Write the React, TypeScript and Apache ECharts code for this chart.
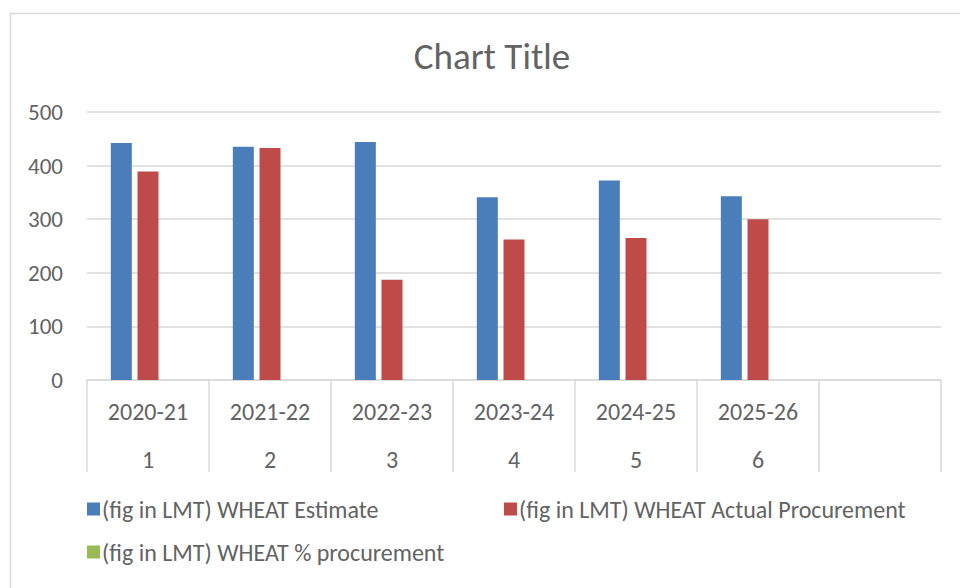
import React, { useEffect, useRef } from "react";
import * as echarts from "echarts";

const seasons = ["2020-21", "2021-22", "2022-23", "2023-24", "2024-25", "2025-26", ""];
const indexLabels = ["1", "2", "3", "4", "5", "6", ""];
const estimate = [442, 435, 444, 341, 372, 343, null];
const actual = [389, 433, 187, 262, 265, 300, null];
const pctProcurement = [null, null, null, null, null, null, null];
const seriesNames = [
  "(fig in LMT) WHEAT Estimate",
  "(fig in LMT) WHEAT Actual Procurement",
  "(fig in LMT) WHEAT % procurement",
];
const yTicks = { min: 0, max: 500, interval: 100 };

const FONT = "Carlito, Calibri, 'Liberation Sans Narrow', 'Open Sans', sans-serif";
const TXT = "#636363";
const LINE = "#D9D9D9";

export default function App() {
  const ref = useRef<HTMLDivElement>(null);
  useEffect(() => {
    if (!ref.current) return;
    const chart = echarts.init(ref.current, undefined, { renderer: "svg" });
    const categories = seasons.map((s, i) => s + "|" + indexLabels[i]);
    const legendBase = {
      orient: "horizontal",
      icon: "rect",
      itemWidth: 13,
      itemHeight: 13,
      itemGap: 6,
      textStyle: { fontFamily: FONT, fontSize: 24, color: TXT, padding: [0, 0, 0, -3] },
      selectedMode: false,
    };
    chart.setOption({
      animation: false,
      backgroundColor: "#ffffff",
      textStyle: { fontFamily: FONT },
      title: {
        text: "Chart Title",
        left: 487,
        textAlign: "center",
        top: 33,
        textStyle: { fontFamily: FONT, fontSize: 37, fontWeight: "normal", color: TXT },
      },
      graphic: [
        {
          type: "rect",
          shape: { x: 10.5, y: 13.5, width: 1000, height: 600 },
          style: { fill: "none", stroke: LINE, lineWidth: 1.5 },
          silent: true,
        },
      ],
      legend: [
        { ...legendBase, data: [seriesNames[0]], left: 82, top: 492 },
        { ...legendBase, data: [seriesNames[1]], left: 499, top: 492 },
        { ...legendBase, data: [seriesNames[2]], left: 82, top: 535 },
      ],
      grid: { left: 87, right: 19, top: 112, bottom: 208, containLabel: false },
      xAxis: {
        type: "category",
        data: categories,
        boundaryGap: true,
        axisLine: { show: true, lineStyle: { color: LINE, width: 1.5 } },
        axisTick: { show: true, interval: 0, length: 92, alignWithLabel: false, lineStyle: { color: LINE, width: 1.5 } },
        axisLabel: {
          interval: 0,
          margin: 7,
          formatter: (v: string) => {
            const [a, b] = v.split("|");
            return "{a|" + a + "}\n{b|" + b + "}";
          },
          rich: {
            a: { fontFamily: FONT, fontSize: 24, color: TXT, lineHeight: 48 },
            b: { fontFamily: FONT, fontSize: 24, color: TXT, lineHeight: 48 },
          },
        },
      },
      yAxis: {
        type: "value",
        min: yTicks.min,
        max: yTicks.max,
        interval: yTicks.interval,
        axisLine: { show: false },
        axisTick: { show: false },
        axisLabel: { fontFamily: FONT, fontSize: 23, color: TXT, margin: 24 },
        splitLine: { lineStyle: { color: LINE, width: 1.5 } },
      },
      series: [
        { name: seriesNames[0], type: "bar", data: estimate, barWidth: 21, barGap: "27%", itemStyle: { color: "#4A7EBB" } },
        { name: seriesNames[1], type: "bar", data: actual, barWidth: 21, barGap: "27%", itemStyle: { color: "#BE4B48" } },
        { name: seriesNames[2], type: "bar", data: pctProcurement, barWidth: 21, barGap: "27%", itemStyle: { color: "#98B954" } },
      ],
    });
    return () => chart.dispose();
  }, []);
  return (
    <div
      ref={ref}
      style={{ position: "fixed", left: 0, top: 0, width: 960, height: 588, background: "#fff" }}
    />
  );
}
